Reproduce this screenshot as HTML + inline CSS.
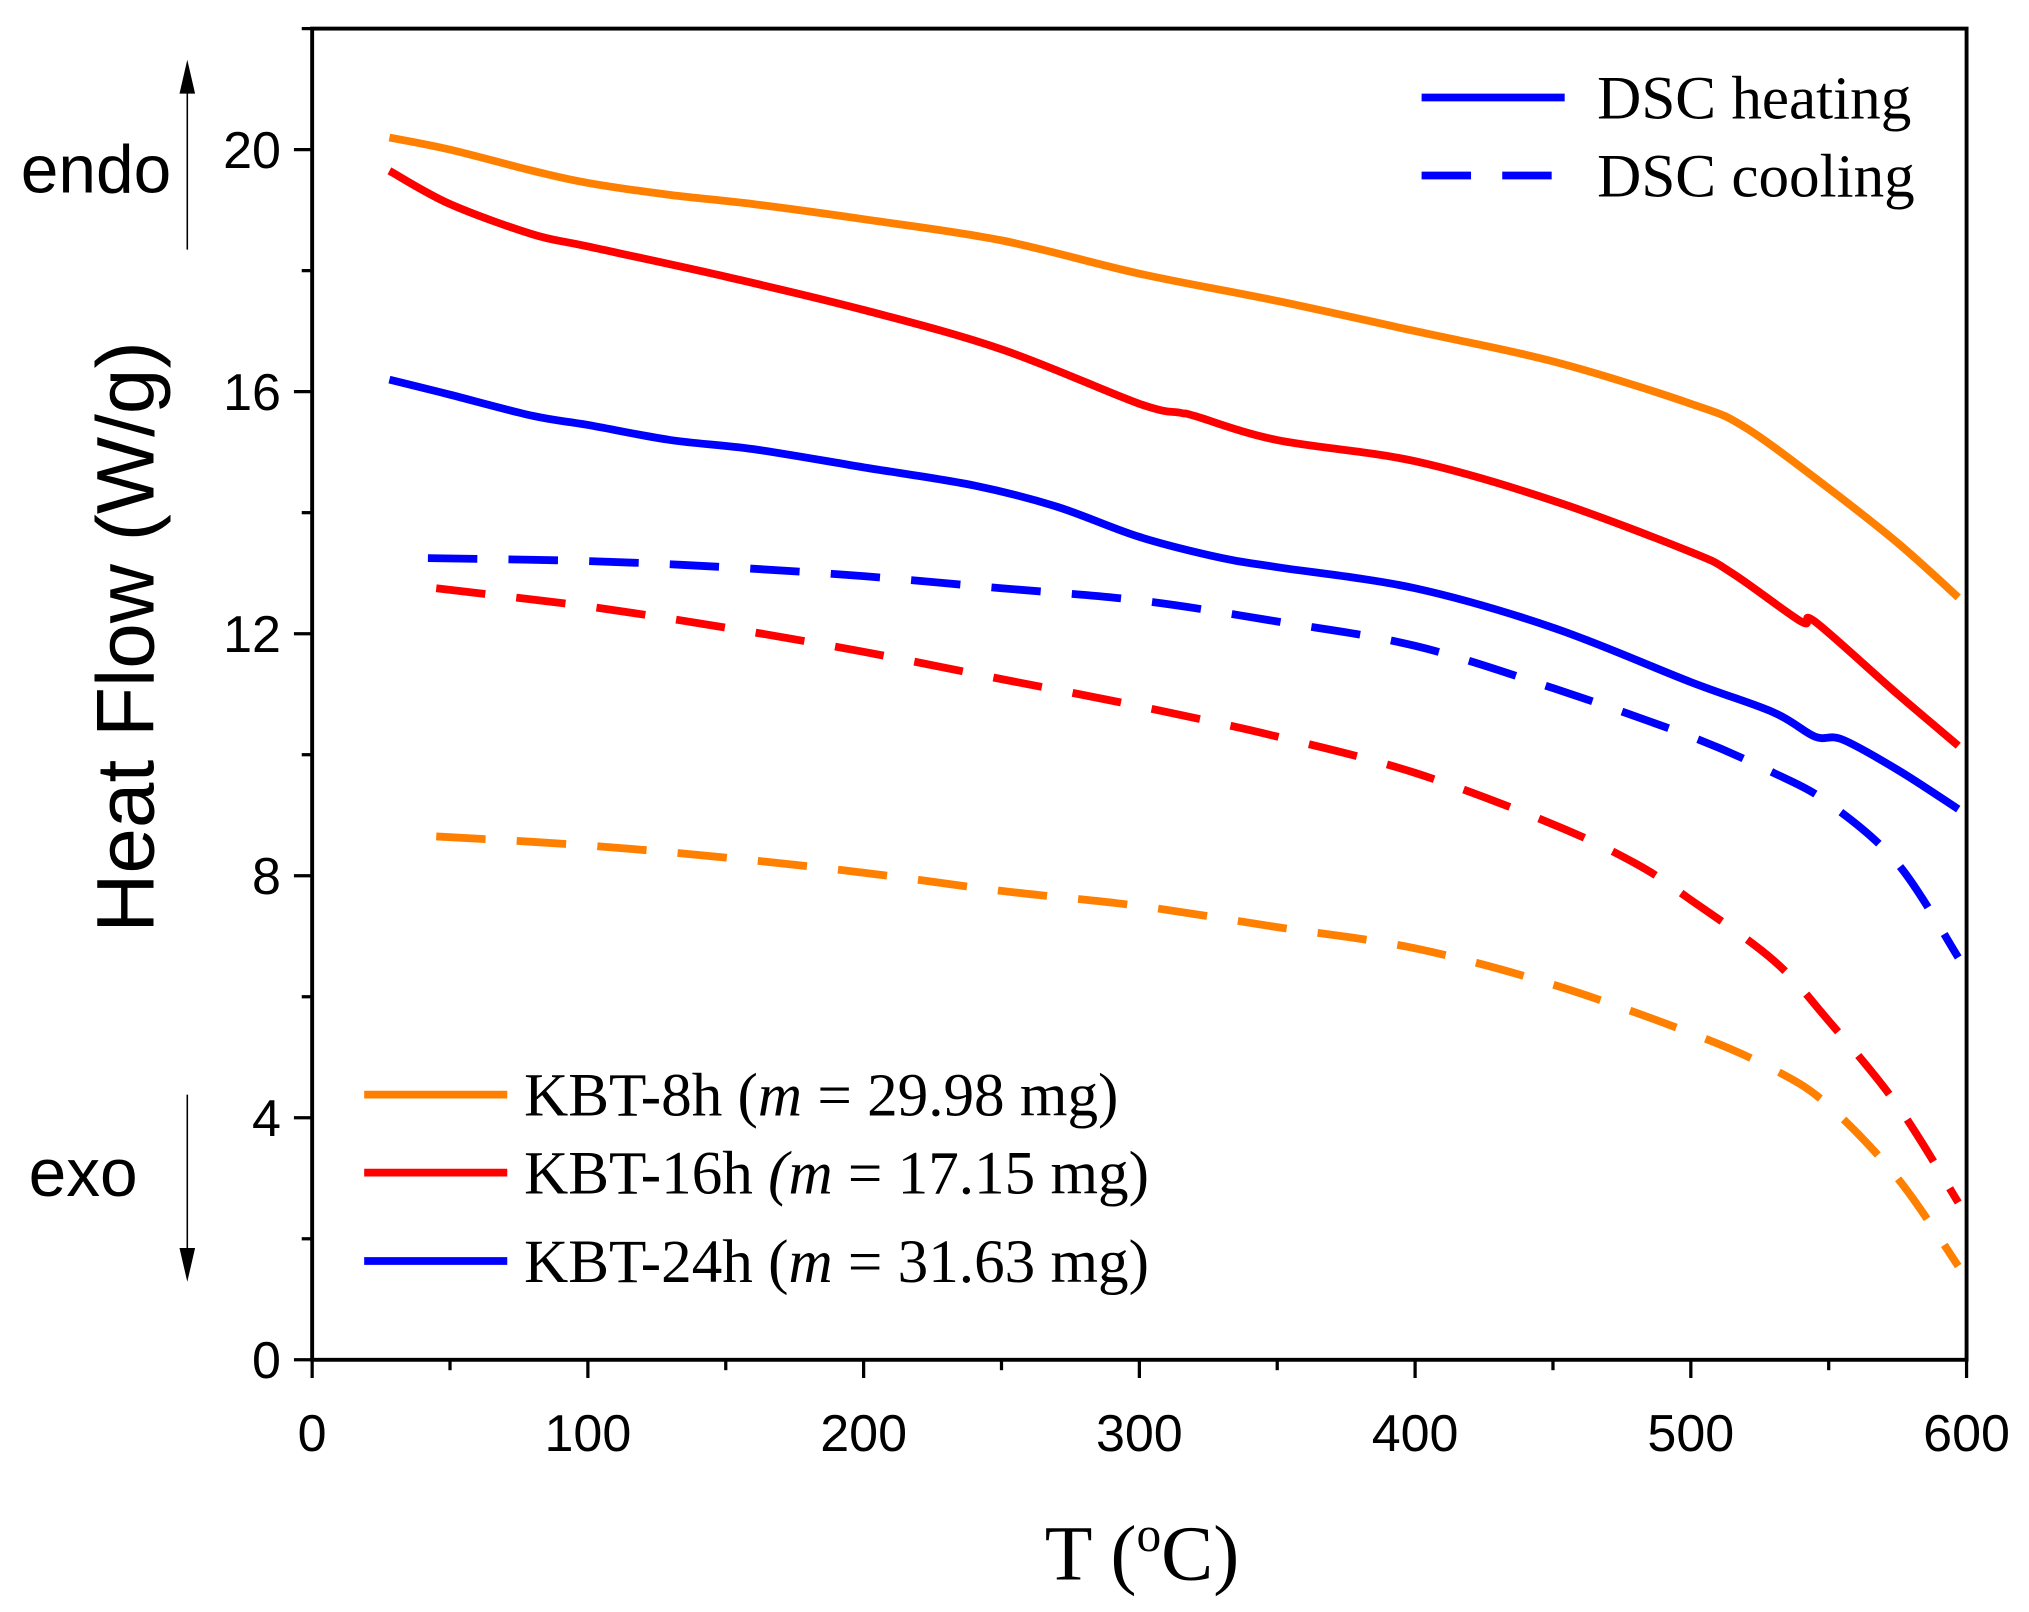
<!DOCTYPE html>
<html><head><meta charset="utf-8"><style>
html,body{margin:0;padding:0;background:#fff}
svg{display:block}
.s{font-family:"Liberation Sans",sans-serif}
.r{font-family:"Liberation Serif",serif}
</style></head><body>
<svg id="chart" width="2029" height="1612" viewBox="0 0 1560 1240" preserveAspectRatio="none" xmlns="http://www.w3.org/2000/svg">
<g id="plot"></g>
</svg>
<script>
const xTicks=[0,100,200,300,400,500,600];
const yTicks=[0,4,8,12,16,20];
const orangeHeatT=[28,50,80,100,130,160,200,250,300,350,400,450,500,520,550,575,597];
const orangeHeatV=[20.2,20.0,19.65,19.45,19.25,19.1,18.85,18.5,17.95,17.5,17.0,16.5,15.8,15.4,14.4,13.5,12.6];
const redHeatT=[28,50,80,100,150,200,250,300,315,320,350,400,450,500,515,540,545,575,597];
const redHeatV=[19.65,19.1,18.6,18.4,17.9,17.35,16.7,15.8,15.65,15.6,15.2,14.85,14.2,13.35,13.0,12.2,12.2,11.0,10.15];
const blueHeatT=[28,50,80,100,130,160,200,240,270,300,330,350,400,450,500,530,545,555,575,597];
const blueHeatV=[16.2,15.95,15.6,15.45,15.2,15.05,14.75,14.45,14.1,13.6,13.25,13.1,12.75,12.1,11.2,10.7,10.3,10.25,9.75,9.1];
const blueCoolT=[42,100,150,200,250,300,350,400,450,500,530,550,575,597];
const blueCoolV=[13.25,13.2,13.1,12.95,12.75,12.55,12.2,11.8,11.1,10.3,9.7,9.2,8.2,6.65];
const redCoolT=[45,100,150,200,250,300,350,400,450,480,500,530,550,575,597];
const redCoolV=[12.75,12.45,12.1,11.7,11.25,10.8,10.3,9.7,8.85,8.2,7.6,6.6,5.6,4.2,2.6];
const orangeCoolT=[45,100,150,200,250,300,350,400,450,500,530,550,575,597];
const orangeCoolV=[8.65,8.5,8.3,8.05,7.75,7.5,7.15,6.8,6.2,5.4,4.8,4.2,3.0,1.55];

const L=240,R=1512,T=22,B=1046;
const X=v=>L+(v/600)*(R-L);
const Y=v=>B-(v/22)*(B-T);
const NS="http://www.w3.org/2000/svg";
const g=document.getElementById('plot');
function el(tag,attrs,parent){const e=document.createElementNS(NS,tag);for(const k in attrs)e.setAttribute(k,attrs[k]);(parent||g).appendChild(e);return e;}

function smooth(xs,ys){
 const P=xs.map((t,i)=>[X(t),Y(ys[i])]);
 let d='M'+P[0][0].toFixed(1)+' '+P[0][1].toFixed(1);
 for(let i=0;i<P.length-1;i++){
  const p0=P[i-1]||P[i],p1=P[i],p2=P[i+1],p3=P[i+2]||p2;
  const c1=[p1[0]+(p2[0]-p0[0])/6,p1[1]+(p2[1]-p0[1])/6];
  const c2=[p2[0]-(p3[0]-p1[0])/6,p2[1]-(p3[1]-p1[1])/6];
  d+=' C'+c1.map(n=>n.toFixed(1)).join(' ')+' '+c2.map(n=>n.toFixed(1)).join(' ')+' '+p2[0].toFixed(1)+' '+p2[1].toFixed(1);
 }
 return d;
}

const series=[
 [orangeHeatT,orangeHeatV,'#ff8000',false,'kbt-8h-heating'],
 [redHeatT,redHeatV,'#ff0000',false,'kbt-16h-heating'],
 [blueHeatT,blueHeatV,'#0000ff',false,'kbt-24h-heating'],
 [blueCoolT,blueCoolV,'#0000ff',true,'kbt-24h-cooling'],
 [redCoolT,redCoolV,'#ff0000',true,'kbt-16h-cooling'],
 [orangeCoolT,orangeCoolV,'#ff8000',true,'kbt-8h-cooling']];
series.forEach(s=>{
 const p=el('path',{d:smooth(s[0],s[1]),fill:'none',stroke:s[2],'stroke-width':6,'stroke-linejoin':'round'});
 if(s[3])p.setAttribute('stroke-dasharray','38 24');
 
 
});

const fr=el('rect',{x:L,y:T,width:R-L,height:B-T,fill:'none',stroke:'#000','stroke-width':3});



for(let v=0;v<=600;v+=50){
 const maj=v%100===0;
 const t=el('line',{x1:X(v),x2:X(v),y1:B,y2:B+(maj?14:8),stroke:'#000','stroke-width':2.5});
 
 
}
xTicks.forEach(v=>{
 const t=el('text',{x:X(v),y:B+70,'text-anchor':'middle','font-size':40,class:'s'});
 t.textContent=v;
 
 
});
for(let v=0;v<=22;v+=2){
 const maj=v%4===0;
 const t=el('line',{x1:L,x2:L-(maj?14:8),y1:Y(v),y2:Y(v),stroke:'#000','stroke-width':2.5});
 
 
}
yTicks.forEach(v=>{
 const t=el('text',{x:L-24,y:Y(v)+14,'text-anchor':'end','font-size':40,class:'s'});
 t.textContent=v;
 
 
});
</script>
<svg style="position:absolute;left:0;top:0" width="2029" height="1612" viewBox="0 0 1560 1240" preserveAspectRatio="none" xmlns="http://www.w3.org/2000/svg">
<text class="s" font-size="63" text-anchor="middle" transform="translate(118,490) rotate(-90)">Heat Flow (W/g)</text>
<text class="r" font-size="60" text-anchor="middle" x="878" y="1215">T (<tspan font-size="38" dy="-22">o</tspan><tspan dy="22">C)</tspan></text>
<text class="s" font-size="52" x="16" y="148">endo</text>
<text class="s" font-size="52" x="22" y="920">exo</text>
<g><line x1="144" y1="192" x2="144" y2="70" stroke="#000" stroke-width="1.2"/><polygon points="138,72 150,72 144,46" fill="#000"/></g>
<g><line x1="144" y1="842" x2="144" y2="962" stroke="#000" stroke-width="1.2"/><polygon points="138,960 150,960 144,986" fill="#000"/></g>
<g class="r" font-size="47">
<line x1="1093" y1="75" x2="1203" y2="75" stroke="#0000ff" stroke-width="6"/>
<text x="1228" y="91">DSC heating</text>
<line x1="1093" y1="135" x2="1203" y2="135" stroke="#0000ff" stroke-width="6" stroke-dasharray="38 24"/>
<text x="1228" y="151">DSC cooling</text>
</g>
<g class="r" font-size="47">
<line x1="280" y1="842" x2="390" y2="842" stroke="#ff8000" stroke-width="6"/>
<text x="403" y="858">KBT-8h (<tspan font-style="italic">m</tspan> = 29.98 mg)</text>
<line x1="280" y1="902" x2="390" y2="902" stroke="#ff0000" stroke-width="6"/>
<text x="403" y="918">KBT-16h <tspan font-style="italic">(m</tspan> = 17.15 mg)</text>
<line x1="280" y1="970" x2="390" y2="970" stroke="#0000ff" stroke-width="6"/>
<text x="403" y="986">KBT-24h (<tspan font-style="italic">m</tspan> = 31.63 mg)</text>
</g>
</svg>
</body></html>
